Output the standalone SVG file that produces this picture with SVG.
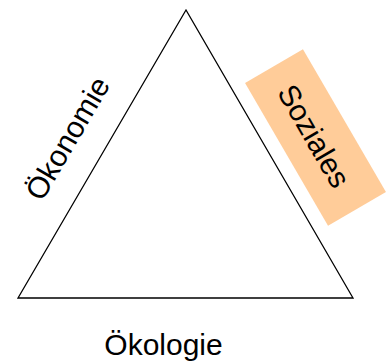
<svg xmlns="http://www.w3.org/2000/svg" width="388" height="362" viewBox="0 0 388 362">
<style>
.lbl{font-family:"Liberation Sans",Arial,sans-serif;font-size:30px;fill:#000;text-anchor:middle}
.tri{fill:#fff;stroke:#000;stroke-width:1.3}
.box{fill:#FFCC99;stroke:none}
</style>
<rect width="388" height="362" fill="#fff"/>
<g id="triangle">
<polygon class="tri" points="186,10 18,298 353,298"/>
</g>
<g id="soziales">
<g transform="translate(315.5,137.5) rotate(59.8)">
<rect class="box" x="-82.5" y="-33.5" width="165" height="67"/>
<text class="lbl" x="-2" y="11">Soziales</text>
</g>
</g>
<g id="oekonomie">
<text class="lbl" transform="translate(67,138) rotate(-59.7)" x="0" y="11">Ökonomie</text>
</g>
<g id="oekologie">
<text class="lbl" x="163.5" y="355">Ökologie</text>
</g>
<g id="connectors"></g>
</svg>
